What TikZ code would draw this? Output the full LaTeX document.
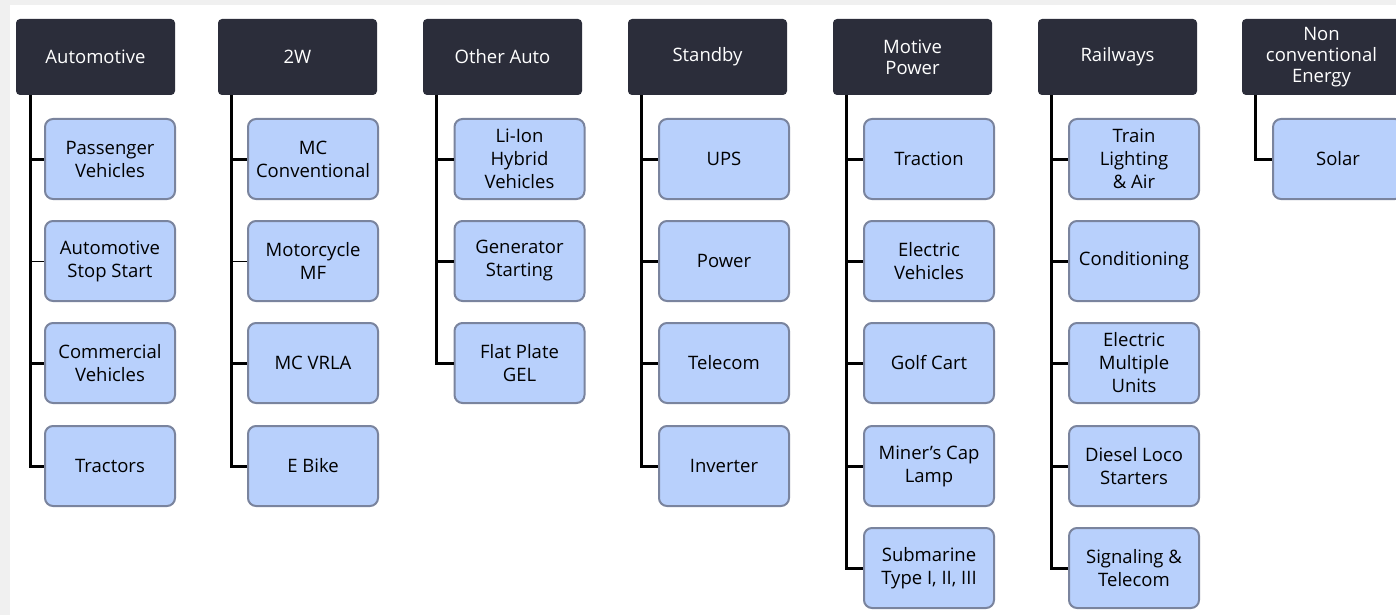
\documentclass[tikz,border=0pt]{standalone}
\usepackage{fontspec}
\setmainfont{Open Sans}
\definecolor{hdrfill}{HTML}{2B2D3A}
\definecolor{kidfill}{HTML}{B8D0FC}
\definecolor{kiddraw}{HTML}{7A849E}
\definecolor{outerbg}{HTML}{F0F0F0}
\tikzset{
  hdr/.style={draw=none, fill=hdrfill, rounded corners=4pt, minimum width=159pt, minimum height=76pt,
    text=white, align=center, font=\fontsize{18.5}{21}\selectfont, inner sep=0pt},
  kid/.style={draw=kiddraw, line width=2pt, fill=kidfill, rounded corners=8pt, minimum width=130pt, minimum height=80pt,
    text=black, align=center, font=\fontsize{18.5}{23}\selectfont, inner sep=0pt},
  conn/.style={draw=black, line width=3pt},
  thinconn/.style={draw=black, line width=1pt},
}
\begin{document}
\begin{tikzpicture}[x=1pt,y=-1pt]
\fill[outerbg] (0,0) rectangle (1396,615);
\fill[white] (10,5) rectangle (1396,615);
\useasboundingbox (0,0) rectangle (1396,615);
% headers
\node[hdr] (h1) at (95.5,57) {Automotive};
\node[hdr] (h2) at (297.5,57) {2W};
\node[hdr] (h3) at (502.5,57) {Other Auto};
\node[hdr] (h4) at (707.5,57) {Standby};
\node[hdr] (h5) at (912.5,57) {Motive\\Power};
\node[hdr] (h6) at (1117.5,57) {Railways};
\node[hdr] (h7) at (1321.5,57) {Non\\conventional\\Energy};
% column 1
\node[kid] (c11) at (110,159) {Passenger\\Vehicles};
\node[kid] (c12) at (110,261) {Automotive\\Stop Start};
\node[kid] (c13) at (110,363) {Commercial\\Vehicles};
\node[kid] (c14) at (110,466) {Tractors};
% column 2
\node[kid] (c21) at (313,159) {MC\\Conventional};
\node[kid] (c22) at (313,261) {Motorcycle\\MF};
\node[kid] (c23) at (313,363) {MC VRLA};
\node[kid] (c24) at (313,466) {E Bike};
% column 3
\node[kid] (c31) at (519.5,159) {Li-Ion\\Hybrid\\Vehicles};
\node[kid] (c32) at (519.5,261) {Generator\\Starting};
\node[kid] (c33) at (519.5,363) {Flat Plate\\GEL};
% column 4
\node[kid] (c41) at (724,159) {UPS};
\node[kid] (c42) at (724,261) {Power};
\node[kid] (c43) at (724,363) {Telecom};
\node[kid] (c44) at (724,466) {Inverter};
% column 5
\node[kid] (c51) at (929,159) {Traction};
\node[kid] (c52) at (929,261) {Electric\\Vehicles};
\node[kid] (c53) at (929,363) {Golf Cart};
\node[kid] (c54) at (929,466) {Miner’s Cap\\Lamp};
\node[kid] (c55) at (929,568) {Submarine\\Type I, II, III};
% column 6
\node[kid] (c61) at (1134,159) {Train\\Lighting\\\& Air};
\node[kid] (c62) at (1134,261) {Conditioning};
\node[kid] (c63) at (1134,363) {Electric\\Multiple\\Units};
\node[kid] (c64) at (1134,466) {Diesel Loco\\Starters};
\node[kid] (c65) at (1134,568) {Signaling \&\\Telecom};
% column 7
\node[kid] (c71) at (1338,159) {Solar};
% connectors
\coordinate (v1) at ([xshift=15pt]h1.south west);
\coordinate (v2) at ([xshift=14pt]h2.south west);
\coordinate (v3) at ([xshift=14pt]h3.south west);
\coordinate (v4) at ([xshift=14pt]h4.south west);
\coordinate (v5) at ([xshift=14pt]h5.south west);
\coordinate (v6) at ([xshift=14pt]h6.south west);
\coordinate (v7) at ([xshift=14pt]h7.south west);
\draw[conn] (v1) |- (c14.west);
\draw[conn] (v1 |- c11.west) -- (c11.west);
\draw[thinconn] (v1 |- c12.west) -- (c12.west);
\draw[conn] (v1 |- c13.west) -- (c13.west);
\draw[conn] (v2) |- (c24.west);
\draw[conn] (v2 |- c21.west) -- (c21.west);
\draw[thinconn] (v2 |- c22.west) -- (c22.west);
\draw[conn] (v2 |- c23.west) -- (c23.west);
\draw[conn] (v3) |- (c33.west);
\draw[conn] (v3 |- c31.west) -- (c31.west);
\draw[conn] (v3 |- c32.west) -- (c32.west);
\draw[conn] (v4) |- (c44.west);
\draw[conn] (v4 |- c41.west) -- (c41.west);
\draw[conn] (v4 |- c42.west) -- (c42.west);
\draw[conn] (v4 |- c43.west) -- (c43.west);
\draw[conn] (v5) |- (c55.west);
\draw[conn] (v5 |- c51.west) -- (c51.west);
\draw[conn] (v5 |- c52.west) -- (c52.west);
\draw[conn] (v5 |- c53.west) -- (c53.west);
\draw[conn] (v5 |- c54.west) -- (c54.west);
\draw[conn] (v6) |- (c65.west);
\draw[conn] (v6 |- c61.west) -- (c61.west);
\draw[conn] (v6 |- c62.west) -- (c62.west);
\draw[conn] (v6 |- c63.west) -- (c63.west);
\draw[conn] (v6 |- c64.west) -- (c64.west);
\draw[conn] (v7) |- (c71.west);
\end{tikzpicture}
\end{document}
